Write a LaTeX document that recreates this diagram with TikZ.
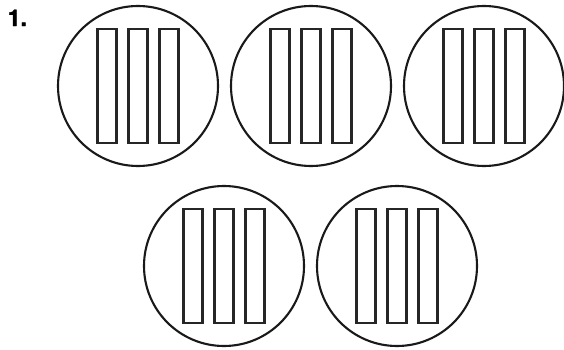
\documentclass[tikz,border=0pt]{standalone}
\usepackage{fontspec}
\newfontfamily\heros{TeX Gyre Heros}[BoldFeatures={FakeBold=1.6}]
\begin{document}
\begin{tikzpicture}[x=1pt,y=-1pt,
  disc/.style={circle,draw=black!90,line width=2.1pt,minimum size=160pt,inner sep=0pt},
  bar/.style={draw=black!85,line width=2.5pt,minimum width=19pt,minimum height=114pt,inner sep=0pt}]
\useasboundingbox (0,0) rectangle (564,350);
\node[font=\heros\bfseries\fontsize{23}{23}\selectfont,anchor=north west,inner sep=0pt] (num) at (7.5,9.5) {1.};
\foreach \n/\x/\y in {a/138/86, b/311/86, c/484/86, d/224/266, e/397/266}{
  \node[disc] (\n) at (\x,\y) {};
  \node[bar] (\n1) at (\x-31,\y) {};
  \node[bar] (\n2) at (\x,\y) {};
  \node[bar] (\n3) at (\x+31,\y) {};
}
\end{tikzpicture}
\end{document}
